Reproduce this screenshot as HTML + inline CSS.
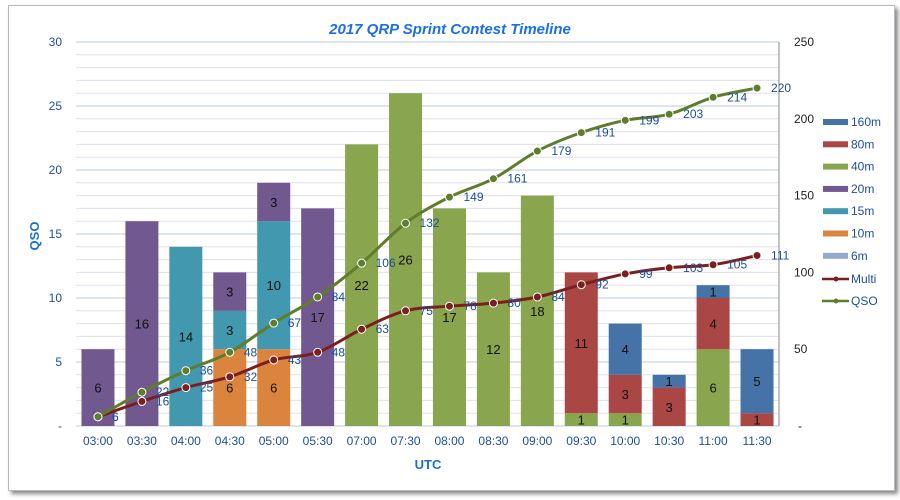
<!DOCTYPE html>
<html><head><meta charset="utf-8"><style>
html,body{margin:0;padding:0;background:#fff;}
#c{position:absolute;left:8px;top:5px;width:885px;height:484px;border:1px solid #b8b8c8;box-shadow:3px 3px 4px #888;background:#fff;}
svg{position:absolute;left:0;top:0;}
text{font-family:"Liberation Sans",sans-serif;}
</style></head><body>
<div id="c"></div>
<svg id="s" width="900" height="500" xmlns="http://www.w3.org/2000/svg"></svg>
<script>
const s=document.getElementById('s');let h='';
const L=76,R=779,T=42,B=426,n=16,sp=(R-L)/n,bw=33;
const yl=v=>B-v*(B-T)/30, yr=v=>B-v*(B-T)/250, cx=i=>L+sp*(i+0.5);
for(let v=1;v<=30;v++){const y=yl(v);h+=`<line x1="${L}" x2="${R}" y1="${y}" y2="${y}" stroke="${v%5?'#e0e0ee':'#b8cce4'}" stroke-width="1"/>`;}
h+=`<line x1="${L}" x2="${R}" y1="${B}" y2="${B}" stroke="#b8cce4"/>`;
h+=`<line x1="${R}" x2="${R}" y1="${T}" y2="${B}" stroke="#888"/>`;
for(let v=5;v<=30;v+=5)h+=`<text x="62" y="${yl(v)+4}" font-size="12" fill="#1f4e99" text-anchor="end">${v}</text>`;
h+=`<text x="62" y="${B+4}" font-size="12" fill="#1f4e99" text-anchor="end">-</text>`;
for(let v=50;v<=250;v+=50)h+=`<text x="794" y="${yr(v)+4}" font-size="12" fill="#222">${v}</text>`;
h+=`<text x="798" y="${B+4}" font-size="12" fill="#222">-</text>`;
const C={'160m':'#4572a7','80m':'#aa4643','40m':'#89a54e','20m':'#71588f','15m':'#4198af','10m':'#db843d','6m':'#93a9cf'};
const D=[[['20m',6]],[['20m',16]],[['15m',14]],[['10m',6],['15m',3],['20m',3]],[['10m',6],['15m',10],['20m',3]],[['20m',17]],[['40m',22]],[['40m',26]],[['40m',17]],[['40m',12]],[['40m',18]],[['40m',1],['80m',11]],[['40m',1],['80m',3],['160m',4]],[['80m',3],['160m',1]],[['40m',6],['80m',4],['160m',1]],[['80m',1],['160m',5]]];
const lab=['03:00','03:30','04:00','04:30','05:00','05:30','07:00','07:30','08:00','08:30','09:00','09:30','10:00','10:30','11:00','11:30'];
D.forEach((st,i)=>{let b=0;const x=cx(i);st.forEach(([k,v])=>{const y1=yl(b+v),y0=yl(b);h+=`<rect x="${x-bw/2}" y="${y1}" width="${bw}" height="${y0-y1}" fill="${C[k]}"/>`;h+=`<text x="${x}" y="${(y0+y1)/2+5}" font-size="13" fill="#111" text-anchor="middle">${v}</text>`;b+=v;});
h+=`<text x="${x}" y="445" font-size="12" fill="#1f4e99" text-anchor="middle">${lab[i]}</text>`;});
function line(vals,col){const p=vals.map((v,i)=>[cx(i),yr(v)]);let d=`M${p[0][0]},${p[0][1]}`;for(let i=0;i<p.length-1;i++){const a=p[i-1]||p[i],b=p[i],c=p[i+1],e=p[i+2]||c;d+=` C${b[0]+(c[0]-a[0])/6},${b[1]+(c[1]-a[1])/6} ${c[0]-(e[0]-b[0])/6},${c[1]-(e[1]-b[1])/6} ${c[0]},${c[1]}`;}
h+=`<path d="${d}" fill="none" stroke="${col}" stroke-width="3"/>`;p.forEach((q,i)=>{h+=`<circle cx="${q[0]}" cy="${q[1]}" r="4" fill="${col}" stroke="#fff" stroke-width="1"/>`;h+=`<text x="${q[0]+14}" y="${q[1]+4}" font-size="12" fill="#1f4e99">${vals[i]}</text>`;});}
line([6,16,25,32,43,48,63,75,78,80,84,92,99,103,105,111],'#7b1e1e');
line([6,22,36,48,67,84,106,132,149,161,179,191,199,203,214,220],'#5f7d2b');
h+=`<text x="450" y="34" font-size="15" font-weight="bold" font-style="italic" fill="#1a6fe8" text-anchor="middle">2017 QRP Sprint Contest Timeline</text>`;
h+=`<text transform="translate(39,236) rotate(-90)" font-size="13" font-weight="bold" fill="#1a6fd0" text-anchor="middle">QSO</text>`;
h+=`<text x="428" y="469" font-size="13" font-weight="bold" fill="#1a6fd0" text-anchor="middle">UTC</text>`;
const lg=['160m','80m','40m','20m','15m','10m','6m'];
lg.forEach((k,i)=>{const y=122+i*22.3;h+=`<rect x="823" y="${y-3}" width="25" height="6" fill="${C[k]}"/><text x="851" y="${y+4}" font-size="12" fill="#1f4e99">${k}</text>`;});
[['Multi','#7b1e1e',279],['QSO','#5f7d2b',301]].forEach(([k,c,y])=>{h+=`<line x1="822" x2="849" y1="${y}" y2="${y}" stroke="${c}" stroke-width="2.5"/><circle cx="836" cy="${y}" r="2.5" fill="${c}"/><text x="851" y="${y+4}" font-size="12" fill="#1f4e99">${k}</text>`;});
s.innerHTML=h;
</script>
</body></html>
